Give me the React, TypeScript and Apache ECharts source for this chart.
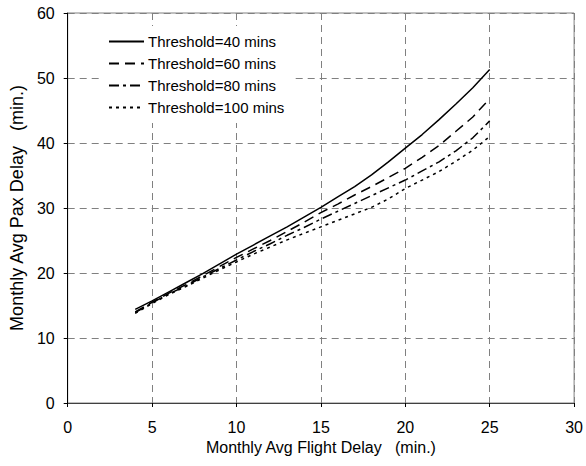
import React, { useEffect, useRef } from "react";
import * as echarts from "echarts";

const flightDelay = [4, 5, 6, 7, 8, 9, 10, 11, 12, 13, 14, 15, 16, 17, 18, 19, 20, 21, 22, 23, 24, 25];
const threshold40 = [14.4, 15.7, 17.1, 18.5, 19.9, 21.4, 22.9, 24.3, 25.7, 27.1, 28.6, 30.1, 31.7, 33.3, 35.1, 37.1, 39.2, 41.3, 43.6, 46.0, 48.5, 51.3];
const threshold60 = [14.0, 15.5, 16.9, 18.2, 19.6, 21.0, 22.4, 23.7, 25.0, 26.4, 27.8, 29.3, 30.6, 32.0, 33.3, 34.7, 36.1, 37.8, 39.6, 41.8, 44.0, 46.8];
const threshold80 = [13.9, 15.4, 16.8, 18.0, 19.4, 20.7, 22.0, 23.3, 24.5, 25.8, 27.0, 28.3, 29.5, 30.7, 31.9, 33.1, 34.3, 35.7, 37.1, 38.8, 40.8, 43.4];
const threshold100 = [13.8, 15.3, 16.7, 17.9, 19.2, 20.5, 21.7, 22.9, 24.0, 25.1, 26.1, 27.1, 28.1, 29.1, 30.1, 31.4, 33.0, 34.3, 35.6, 37.2, 38.9, 41.0];
const seriesNames = ["Threshold=40 mins", "Threshold=60 mins", "Threshold=80 mins", "Threshold=100 mins"];
const xTitle = "Monthly Avg Flight Delay   (min.)";
const yTitle = "Monthly Avg Pax Delay   (min.)";

const FONT = 'Arial, "Liberation Sans", sans-serif';

export default function App() {
  const ref = useRef<HTMLDivElement>(null);
  useEffect(() => {
    if (!ref.current) return;
    const chart = echarts.init(ref.current, undefined, { renderer: "svg" });
    const allData = [threshold40, threshold60, threshold80, threshold100];
    const dashes: any[] = ["solid", [10, 6], [10, 4, 3, 4], [3, 4]];
    chart.setOption({
      animation: false,
      backgroundColor: "#ffffff",
      textStyle: { fontFamily: FONT },
      grid: {
        left: 63,
        right: 9,
        top: 13,
        bottom: 63,
        show: true,
        borderColor: "#808080",
        borderWidth: 1,
        backgroundColor: "transparent",
      },
      legend: {
        orient: "vertical",
        left: 100,
        top: 26,
        padding: [8, 8, 8, 8],
        backgroundColor: "#ffffff",
        itemWidth: 35,
        itemHeight: 14,
        itemGap: 7,
        itemStyle: { opacity: 0 },
        textStyle: { fontSize: 15, color: "#000", fontFamily: FONT, padding: [0, 0, 0, -1] },
        data: seriesNames,
      },
      xAxis: {
        type: "value",
        min: 0,
        max: 30,
        interval: 5,
        name: xTitle,
        nameLocation: "middle",
        nameGap: 36,
        nameTextStyle: { fontSize: 16, color: "#000", fontFamily: FONT },
        axisLine: { show: true, onZero: false, lineStyle: { color: "#404040", width: 1 } },
        axisTick: { show: true, length: 4, lineStyle: { color: "#000" } },
        axisLabel: { fontSize: 16, color: "#000", margin: 16, fontFamily: FONT },
        splitLine: { show: true, lineStyle: { color: "#808080", type: [7, 5], width: 1 } },
      },
      yAxis: {
        type: "value",
        min: 0,
        max: 60,
        interval: 10,
        name: yTitle,
        nameLocation: "middle",
        nameGap: 36,
        nameTextStyle: { fontSize: 18, color: "#000", fontFamily: FONT },
        axisLine: { show: true, lineStyle: { color: "#000", width: 1 } },
        axisTick: { show: true, length: 4, lineStyle: { color: "#000" } },
        axisLabel: { fontSize: 16, color: "#000", margin: 13, fontFamily: FONT },
        splitLine: { show: true, lineStyle: { color: "#808080", type: [7, 5], width: 1 } },
      },
      series: seriesNames.map((name, i) => ({
        name,
        type: "line",
        symbol: "none",
        showSymbol: false,
        z: 1,
        lineStyle: { color: "#000", width: 1.5, type: dashes[i] },
        itemStyle: { color: "#000" },
        data: flightDelay.map((x, j) => [x, allData[i][j]]),
      })),
    });
    return () => chart.dispose();
  }, []);
  return (
    <div
      ref={ref}
      style={{ position: "fixed", left: 0, top: 0, width: 586, height: 466, background: "#fff" }}
    />
  );
}
